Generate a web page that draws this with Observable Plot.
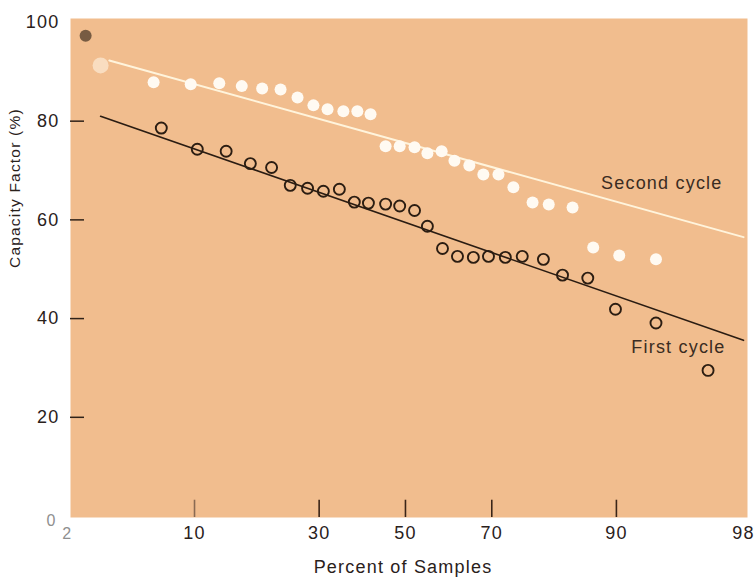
<!DOCTYPE html>
<html>
<head>
<meta charset="utf-8">
<script src="https://cdn.jsdelivr.net/npm/d3@7"></script>
<script src="https://cdn.jsdelivr.net/npm/@observablehq/plot@0.6"></script>
<style>
  html, body { margin: 0; padding: 0; background: #ffffff; }
  #chart svg { display: block; }
</style>
</head>
<body>
<div id="chart"></div>
<script>
// ---- data ----
// percent of samples (normal-probability axis) and capacity factor (%)
const firstPct = [6.9,10.3,13.8,17.3,20.8,24.2,27.6,30.9,34.4,37.8,41.1,45.2,48.6,52.2,55.3,58.9,62.4,66.0,69.3,72.8,76.1,79.9,83.0,86.6,89.9,93.6,96.7];
const firstVal = [78.6,74.3,73.9,71.4,70.6,67.0,66.4,65.8,66.2,63.6,63.4,63.2,62.8,61.9,58.7,54.2,52.6,52.4,52.6,52.4,52.6,52.0,48.8,48.2,41.9,39.1,29.5];

const secondPct = [6.3,9.6,12.9,16.0,19.2,22.4,25.6,28.8,31.8,35.3,38.5,41.6,45.2,48.6,52.2,55.3,58.7,61.7,65.1,68.2,71.4,74.4,78.0,80.8,84.5,87.3,90.3,93.6];
const secondVal = [87.9,87.5,87.7,87.1,86.6,86.4,84.8,83.2,82.4,82.0,82.0,81.4,74.9,74.9,74.7,73.5,73.9,72.0,71.0,69.2,69.2,66.6,63.5,63.1,62.5,54.4,52.8,52.0];

// faint / smudged points at the top-left
const secondFaintPct = [3.2];
const secondFaintVal = [91.3];
const smudgePct = [2.6];
const smudgeVal = [97.3];

// fitted lines (end points)
const firstFitPct = [3.2, 98];
const firstFitVal = [81.0, 35.6];
const secondFitPct = [3.6, 98];
const secondFitVal = [92.3, 56.5];

// ticks
const xTickPct = [10, 30, 50, 70, 90];
const xLabelPct = [10, 30, 50, 70, 90, 98];
const xOriginPct = [2];
const yTicks = [20, 40, 60, 80];
const yLabels = [20, 40, 60, 80, 100];
const yOrigin = [0];

// ---- helpers ----
function probit(p) {
  const a=[-3.969683028665376e+01,2.209460984245205e+02,-2.759285104469687e+02,1.383577518672690e+02,-3.066479806614716e+01,2.506628277459239e+00];
  const b=[-5.447609879822406e+01,1.615858368580409e+02,-1.556989798598866e+02,6.680131188771972e+01,-1.328068155288572e+01];
  const c=[-7.784894002430293e-03,-3.223964580411365e-01,-2.400758277161838e+00,-2.549732539343734e+00,4.374664141464968e+00,2.938163982698783e+00];
  const d=[7.784695709041462e-03,3.224671290700398e-01,2.445134137142996e+00,3.754408661907416e+00];
  const pl = 0.02425;
  if (p < pl) {
    const q = Math.sqrt(-2*Math.log(p));
    return (((((c[0]*q+c[1])*q+c[2])*q+c[3])*q+c[4])*q+c[5])/((((d[0]*q+d[1])*q+d[2])*q+d[3])*q+1);
  }
  if (p <= 1 - pl) {
    const q = p - 0.5, r = q*q;
    return (((((a[0]*r+a[1])*r+a[2])*r+a[3])*r+a[4])*r+a[5])*q/(((((b[0]*r+b[1])*r+b[2])*r+b[3])*r+b[4])*r+1);
  }
  const q = Math.sqrt(-2*Math.log(1-p));
  return -(((((c[0]*q+c[1])*q+c[2])*q+c[3])*q+c[4])*q+c[5])/((((d[0]*q+d[1])*q+d[2])*q+d[3])*q+1);
}
const zip = (ps, vs) => ps.map((p, i) => ({p, v: vs[i]}));
const first = zip(firstPct, firstVal);
const second = zip(secondPct, secondVal);
const secondFaint = zip(secondFaintPct, secondFaintVal);
const smudge = zip(smudgePct, smudgeVal);
const firstFit = zip(firstFitPct, firstFitVal);
const secondFit = zip(secondFitPct, secondFitVal);
const px = d => probit(d.p / 100);
const pz = p => probit(p / 100);

const X0 = -2.035, X1 = 2.078;   // probit-space domain of the frame
const ink = "#2a211b";
const font = "'Liberation Sans', Arial, Helvetica, sans-serif";

const chart = Plot.plot({
  width: 756,
  height: 578,
  marginLeft: 70,
  marginRight: 9,
  marginTop: 18,
  marginBottom: 61,
  x: {type: "linear", domain: [X0, X1], axis: null},
  y: {domain: [-0.3, 100.8], axis: null},
  style: {background: "#ffffff", fontFamily: font, color: ink},
  marks: [
    Plot.frame({fill: "#f1bd8e", stroke: null}),
    // ticks
    Plot.ruleX(xTickPct, {x: pz, y1: -0.3, y2: 3.2, stroke: d => d === 10 ? "#8a6a52" : "#3a2518", strokeWidth: 1.6}),
    Plot.ruleY(yTicks, {y: d => d, x1: X0, x2: X0 + 14 / 164.6, stroke: "#2f2219", strokeWidth: 1.5}),
    // fitted lines
    Plot.line(secondFit, {x: px, y: "v", stroke: "#fff4dc", strokeWidth: 2}),
    Plot.line(firstFit, {x: px, y: "v", stroke: "#2a1c12", strokeWidth: 1.6}),
    // faint marks
    Plot.dot(secondFaint, {x: px, y: "v", r: 8, fill: "#fff8ea", fillOpacity: 0.55, stroke: "none"}),
    Plot.dot(smudge, {x: px, y: "v", r: 6, fill: "#4e3b28", fillOpacity: 0.75, stroke: "none"}),
    // points
    Plot.dot(second, {x: px, y: "v", r: 6, fill: "#fffaf2", stroke: "none"}),
    Plot.dot(first, {x: px, y: "v", r: 5.5, fill: "none", stroke: "#2b1d12", strokeWidth: 1.9}),
    // series labels, anchored to fit-line ends
    Plot.text(secondFit, Plot.selectLast({x: px, y: "v", text: () => "Second cycle", textAnchor: "end", lineAnchor: "middle", dx: -21, dy: -54, fontSize: 18, fill: "#3a2c22"})),
    Plot.text(firstFit, Plot.selectLast({x: px, y: "v", text: () => "First cycle", textAnchor: "end", lineAnchor: "middle", dx: -18, dy: 7, fontSize: 18, fill: "#3a2c22"})),
    // x tick labels
    Plot.text(xLabelPct, {x: pz, frameAnchor: "bottom", lineAnchor: "middle", dy: 16, text: d => String(d), fontSize: 18, fill: ink}),
    Plot.text(xOriginPct, {x: pz, frameAnchor: "bottom", lineAnchor: "middle", dy: 16, text: d => String(d), fontSize: 16, fill: "#8f8f8f"}),
    // y tick labels
    Plot.text(yLabels, {y: d => d, frameAnchor: "left", lineAnchor: "middle", dx: -11, textAnchor: "end", text: d => String(d), fontSize: 18, fill: ink}),
    Plot.text(yOrigin, {y: d => d, frameAnchor: "left", lineAnchor: "middle", dx: -14, dy: 5, textAnchor: "end", text: d => String(d), fontSize: 16, fill: "#8f8f8f"}),
    // axis titles
    Plot.text(["Percent of Samples"], {frameAnchor: "bottom", lineAnchor: "middle", dx: -6, dy: 50, text: d => d, fontSize: 18, fill: ink}),
    Plot.text(["Capacity Factor (%)"], {frameAnchor: "left", lineAnchor: "middle", dx: -55, rotate: -90, text: d => d, fontSize: 15.5, fill: ink})
  ]
});
chart.style.letterSpacing = "1.2px";
document.getElementById("chart").appendChild(chart);
</script>
</body>
</html>
